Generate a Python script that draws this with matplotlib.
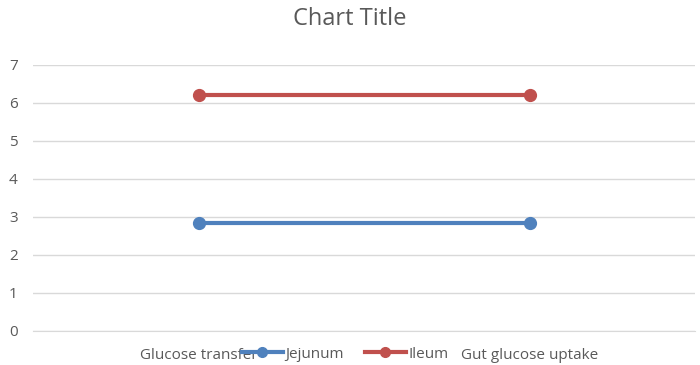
import numpy as np
from matplotlib import pyplot as plt
from matplotlib.lines import Line2D

plt.rcParams['font.family'] = ['Open Sans', 'DejaVu Sans']

# data
categories = ["Glucose transfer", "Gut glucose uptake"]
jejunum = [2.85, 2.85]
ileum = [6.2, 6.2]
y_ticks = [0, 1, 2, 3, 4, 5, 6, 7]

grey = '#595959'
blue = '#4F81BD'
red = '#C0504D'

fig = plt.figure(figsize=(7.0, 3.65), dpi=100)
ax = fig.add_axes([33/700, 34/365, 662/700, 266/365])

x = np.arange(len(categories))
ax.plot(x, jejunum, color=blue, lw=3, marker='o', ms=8.5, label='Jejunum', zorder=3)
ax.plot(x, ileum, color=red, lw=3, marker='o', ms=8.5, label='Ileum', zorder=3)

ax.set_xlim(-0.5, 1.5)
ax.set_ylim(0, 7)
ax.set_yticks(y_ticks)
ax.set_xticks(x)
ax.set_xticklabels(categories)
ax.yaxis.grid(True, color='#D9D9D9', lw=1)
ax.set_axisbelow(True)
for s in ['top', 'right', 'left']:
    ax.spines[s].set_visible(False)
ax.spines['bottom'].set_color('#D9D9D9')
ax.tick_params(axis='y', length=0, pad=11, labelsize=11, labelcolor=grey)
ax.tick_params(axis='x', length=0, pad=12, labelsize=11, labelcolor=grey)

fig.text(0.5, 1 - 19/365, 'Chart Title', ha='center', va='center', fontsize=17, color=grey)

handles = [Line2D([], [], color=blue, lw=3, marker='o', ms=7),
           Line2D([], [], color=red, lw=3, marker='o', ms=7)]
leg = fig.legend(handles, ['Jejunum', 'Ileum'], loc='center', bbox_to_anchor=(345/700, 1 - 354/365),
                 ncol=2, frameon=False, fontsize=11, handlelength=2.7, numpoints=1,
                 columnspacing=1.35, handletextpad=0.15, borderpad=0)
for t in leg.get_texts():
    t.set_color(grey)

fig.savefig('out.png', dpi=100)
